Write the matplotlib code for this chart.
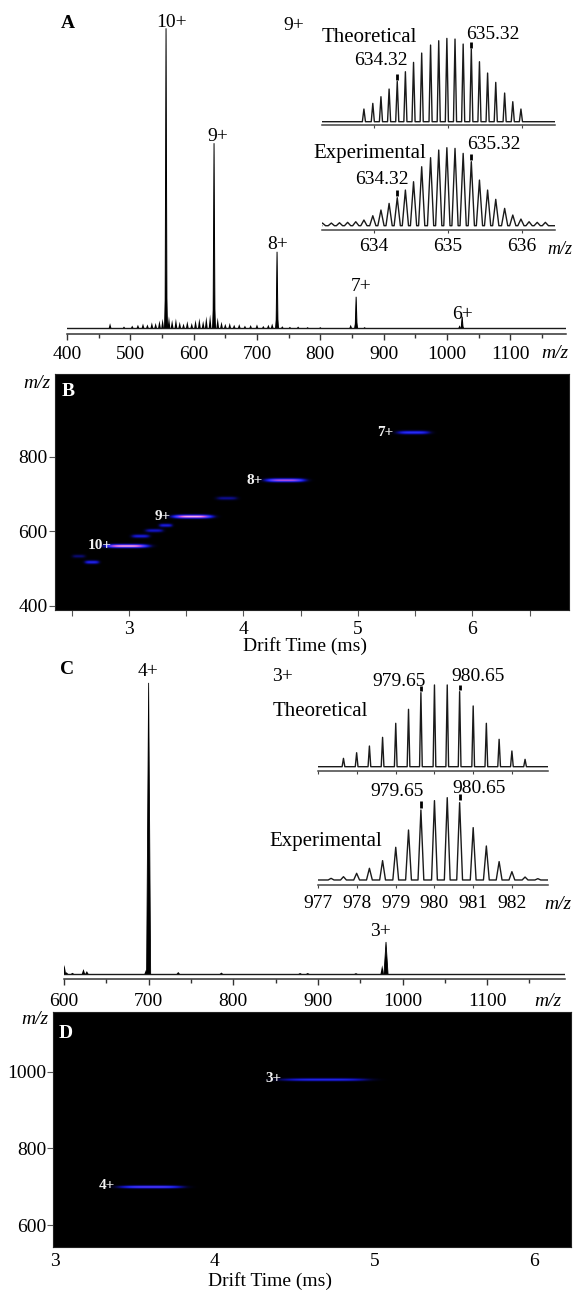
import numpy as np
import matplotlib
matplotlib.use("Agg")
import matplotlib.pyplot as plt
from matplotlib.colors import LinearSegmentedColormap

plt.rcParams['font.family'] = ['Liberation Serif', 'DejaVu Serif']

# ---------------- data ----------------
# Panel A : full mass spectrum
A_labels = ['10+', '9+', '8+', '7+', '6+']
A_peak_mz = [556.4, 632.2, 731.7, 856.6, 1024.0]
A_peak_int = [100.0, 61.7, 25.5, 10.5, 3.9]
A_peak_base = [19.0, 12.2, 5.6, 3.3, 1.2]
A_minor_mz = [468, 490, 503, 512, 520, 527, 534, 540, 546, 551, 561, 566, 572, 578,
              584, 590, 597, 603, 609, 615, 620, 626, 638, 644, 650, 657, 664, 672,
              681, 690, 700, 710, 718, 724, 740, 752, 765, 780, 800, 848, 870, 1020]
A_minor_int = [1.7, 0.6, 0.9, 1.2, 1.6, 1.3, 2.0, 1.8, 2.6, 3.2, 4.0, 2.8, 3.3, 2.2,
               1.6, 2.4, 1.8, 2.8, 3.4, 2.5, 4.0, 4.6, 3.6, 2.2, 1.5, 1.8, 1.2, 1.4,
               0.9, 1.1, 1.3, 0.8, 1.2, 1.6, 0.7, 0.5, 0.6, 0.4, 0.4, 1.2, 0.4, 1.0]
A_ticks = [400, 500, 600, 700, 800, 900, 1000, 1100]

# Inset A : 9+ isotope pattern
A_theo_mz = [633.87, 633.99, 634.10, 634.21, 634.32, 634.43, 634.54, 634.65, 634.77, 634.88,
             634.99, 635.10, 635.21, 635.32, 635.43, 635.54, 635.65, 635.77, 635.88, 635.99]
A_theo_int = [15.2, 22.0, 30.0, 39.2, 48.4, 60.0, 71.2, 82.4, 92.0, 97.2,
              100.0, 99.2, 93.2, 87.2, 72.0, 58.4, 47.2, 34.4, 24.0, 15.2]
A_exp_mz = [633.31, 633.43, 633.54, 633.65, 633.76,
            633.87, 633.99, 634.10, 634.21, 634.32, 634.43, 634.54, 634.65, 634.77, 634.88,
            634.99, 635.10, 635.21, 635.32, 635.43, 635.54, 635.65, 635.77, 635.88, 635.99,
            636.10, 636.21, 636.32]
A_exp_int = [3.4, 3.4, 3.8, 4.3, 5.1,
             7.3, 12.8, 20.1, 28.6, 35.9, 45.7, 56.4, 75.6, 87.2, 97.0,
             100.0, 99.1, 92.7, 82.1, 58.5, 45.7, 33.8, 22.2, 13.7, 8.5,
             5.1, 4.3, 4.3]
A_marked = [634.32, 635.32]
A_inset_ticks = [634, 635, 636]

# Panel B : drift time vs m/z
B_labels = ['10+', '9+', '8+', '7+']
B_dt_start = [2.79, 3.38, 4.19, 5.34]
B_dt_end = [3.17, 3.73, 4.54, 5.63]
B_mz = [558.5, 637.7, 735.4, 863.8]
B_amp = [1.0, 1.0, 0.85, 0.55]
B_minor_dt_start = [2.50, 2.61, 3.02, 3.14, 3.26, 3.76]
B_minor_dt_end = [2.62, 2.74, 3.18, 3.30, 3.38, 3.95]
B_minor_mz = [531, 515, 585, 600, 614, 687]
B_minor_amp = [0.25, 0.5, 0.45, 0.4, 0.45, 0.3]

# Panel C : full mass spectrum
C_labels = ['4+', '3+']
C_peak_mz = [700.0, 980.5]
C_peak_int = [100.0, 11.0]
C_minor_mz = [600.5, 603, 610, 623, 627, 697, 735, 786, 879, 888, 945, 976]
C_minor_int = [3.1, 0.6, 0.4, 1.7, 1.0, 1.5, 0.7, 0.5, 0.35, 0.35, 0.3, 3.0]
C_ticks = [600, 700, 800, 900, 1000, 1100]

# Inset C : 3+ isotope pattern
C_theo_mz = [977.65, 977.99, 978.32, 978.66, 979.00, 979.33, 979.65, 980.00,
             980.33, 980.65, 981.00, 981.34, 981.67, 982.00, 982.34]
C_theo_int = [10.2, 17.1, 25.3, 35.9, 53.1, 70.2, 90.6, 100.0,
              100.0, 91.8, 74.3, 53.1, 33.5, 19.2, 9.0]
C_exp_mz = [977.33, 977.65, 977.99, 978.32, 978.66, 979.00, 979.33, 979.65, 980.00,
            980.33, 980.65, 981.00, 981.34, 981.67, 982.00, 982.34, 982.67]
C_exp_int = [2.0, 4.0, 8.1, 14.2, 23.5, 39.7, 60.7, 85.0, 96.4,
             100.0, 93.9, 63.6, 41.3, 22.3, 10.1, 3.6, 1.6]
C_marked = [979.65, 980.65]
C_inset_ticks = [977, 978, 979, 980, 981, 982]

# Panel D : drift time vs m/z
D_labels = ['4+', '3+']
D_dt_start = [3.40, 4.41]
D_dt_end = [3.80, 4.96]
D_mz = [700.0, 980.2]
D_amp = [0.68, 0.52]

# ---------------- helpers ----------------
W, H = 576, 1290
fig = plt.figure(figsize=(W / 100, H / 100), dpi=100)
fig.patch.set_facecolor('white')


def add_ax(l, t, r, b):
    return fig.add_axes([l / W, 1 - b / H, (r - l) / W, (b - t) / H])


def T(x, y, s, size=14, ha='center', va='center', **kw):
    fig.text(x / W, 1 - (y + 1.5) / H, s, fontsize=size, ha=ha, va=va, **kw)


def spectrum_axes(ax, xlim, ylim, spine_color='#333333'):
    ax.set_xlim(*xlim)
    ax.set_ylim(*ylim)
    ax.patch.set_alpha(0)
    for s in ('top', 'left', 'right'):
        ax.spines[s].set_visible(False)
    ax.spines['bottom'].set_color(spine_color)
    ax.spines['bottom'].set_linewidth(1.1)
    ax.yaxis.set_visible(False)


def profile(ax, mz, inten, hw, x0, x1, color='#1a1a1a', lw=0.9):
    xs, ys = [x0], [0]
    for m, h in sorted(zip(mz, inten)):
        xs += [m - hw, m, m + hw]
        ys += [0, h, 0]
    xs.append(x1)
    ys.append(0)
    ax.plot(xs, ys, color=color, lw=lw, solid_joinstyle='round')


def markers(ax, mz_all, int_all, marked, gap, length):
    for m in marked:
        i = int(np.argmin(np.abs(np.array(mz_all) - m)))
        h = int_all[i]
        ax.plot([mz_all[i], mz_all[i]], [h + gap, h + gap + length], color='black', lw=2.0,
                solid_capstyle='butt')


cmap = LinearSegmentedColormap.from_list('ims', [
    (0.0, '#000000'), (0.12, '#04042a'), (0.35, '#1010b8'), (0.55, '#2a30ff'),
    (0.75, '#7a40f0'), (0.9, '#ff5ccf'), (1.0, '#ffd6ff')])


def heatmap(ax, xlim, ylim, starts, ends, mzs, amps, sig_mz):
    dt = np.linspace(xlim[0], xlim[1], 1100)
    mz = np.linspace(ylim[0], ylim[1], 700)
    Z = np.zeros((mz.size, dt.size))
    for s, e, m, a in zip(starts, ends, mzs, amps):
        c = 0.5 * (s + e)
        sd = 0.5 * (e - s) * 0.85
        Z += a * np.outer(np.exp(-0.5 * ((mz - m) / sig_mz) ** 2),
                          np.exp(-0.5 * ((dt - c) / sd) ** 4))
    ax.imshow(np.clip(Z, 0, 1), extent=[xlim[0], xlim[1], ylim[0], ylim[1]], origin='lower',
              aspect='auto', cmap=cmap, vmin=0, vmax=1, interpolation='bilinear')
    ax.set_xlim(*xlim)
    ax.set_ylim(*ylim)
    ax.set_facecolor('black')
    for s in ax.spines.values():
        s.set_color('#222222')


def px_to_data(ax, x, y):
    """figure pixel (from top-left) -> data coordinates of ax"""
    disp = fig.transFigure.transform((x / W, 1 - y / H))
    return ax.transData.inverted().transform(disp)


# ---------------- Panel A ----------------
axA = add_ax(67, 10, 566, 333.7)
spectrum_axes(axA, (400, 1188), (-1.8, 106.1))
axA.plot([400, 1188], [0, 0], color='#1a1a1a', lw=1.0)
for m, h, b in zip(A_peak_mz, A_peak_int, A_peak_base):
    axA.fill([m - 1.5, m, m + 1.5], [0, h, 0], color='black', lw=0.7)
    axA.fill([m - 3.2, m, m + 3.2], [0, b, 0], color='black', lw=0)
for m, h in zip(A_minor_mz, A_minor_int):
    axA.fill([m - 2.2, m, m + 2.2], [0, h, 0], color='black', lw=0)
axA.set_xticks(A_ticks)
axA.set_xticklabels([str(t) for t in A_ticks])
axA.set_xticks([t + 50 for t in A_ticks], minor=True)
axA.tick_params(axis='x', which='major', direction='out', length=4.0, width=1.0,
                labelsize=14, pad=5.0, color='#333333')
axA.tick_params(axis='x', which='minor', direction='out', length=3.0, width=1.0,
                color='#333333')
A_label_px = [(172, 20.7), (218, 135), (278, 243), (360.7, 285), (462.7, 313)]
for lab, (x, y) in zip(A_labels, A_label_px):
    d = px_to_data(axA, x, y + 1.5)
    axA.text(d[0], d[1], lab, fontsize=14, ha='center', va='center')
T(68, 21.7, 'A', size=14, weight='bold')
T(555, 352.5, 'm/z', size=14, style='italic')

# Inset A theoretical
axAt = add_ax(321.7, 28, 555, 125)
spectrum_axes(axAt, (633.30, 636.45), (-3.96, 112.5), '#444444')
profile(axAt, A_theo_mz, A_theo_int, 0.021, 633.30, 636.45, lw=1.0)
markers(axAt, A_theo_mz, A_theo_int, A_marked, 1.5, 7.5)
axAt.set_xticks(A_inset_ticks)
axAt.tick_params(axis='x', direction='out', length=2.5, width=0.8, labelbottom=False,
                 color='#444444')

# Inset A experimental
axAe = add_ax(321.7, 135, 555, 230)
spectrum_axes(axAe, (633.30, 636.45), (-5.5, 116.3), '#444444')
profile(axAe, A_exp_mz, A_exp_int, 0.042, 633.30, 636.45, lw=1.0)
markers(axAe, A_exp_mz, A_exp_int, A_marked, 2.0, 8.0)
axAe.set_xticks(A_inset_ticks)
axAe.set_xticklabels([str(t) for t in A_inset_ticks])
axAe.tick_params(axis='x', direction='out', length=2.5, width=0.8, labelsize=14, pad=3.2,
                 color='#444444')

T(294, 24, '9+', size=14)
T(321.7, 36, 'Theoretical', size=15, ha='left')
T(493, 33.3, '635.32', size=14)
T(381, 59, '634.32', size=14)
T(313, 152, 'Experimental', size=15, ha='left')
T(494, 143, '635.32', size=14)
T(382, 178, '634.32', size=14)
T(560, 248, 'm/z', size=13, style='italic')

# ---------------- Panel B ----------------
axB = add_ax(55, 374, 569, 609.5)
heatmap(axB, (2.354, 6.843), (389.5, 1023.4),
        B_minor_dt_start + B_dt_start, B_minor_dt_end + B_dt_end,
        B_minor_mz + B_mz, B_minor_amp + B_amp, 3.4)
axB.set_xticks([3, 4, 5, 6])
axB.set_xticks([2.5, 3.5, 4.5, 5.5, 6.5], minor=True)
axB.set_yticks([400, 600, 800])
axB.tick_params(axis='both', which='both', direction='out', length=4.0, width=0.8,
                color='#555555', labelsize=14)
axB.tick_params(axis='x', which='major', pad=4.3)
axB.tick_params(axis='y', pad=1.4)
B_label_dx = [-0.043, -0.083, -0.09, -0.098]
for lab, s, m, dx in zip(B_labels, B_dt_start, B_mz, B_label_dx):
    axB.text(s + dx, m + 2, lab, color='#f2f2f2', fontsize=11, weight='bold',
             ha='center', va='center')
T(68, 390, 'B', size=14, weight='bold', color='white')
T(36.7, 381.7, 'm/z', size=14, style='italic')
T(305, 645, 'Drift Time (ms)', size=14)

# ---------------- Panel C ----------------
axC = add_ax(64, 650, 565, 978.6)
spectrum_axes(axC, (600, 1192), (-1.58, 111.3))
axC.plot([600, 1192], [0, 0], color='#1a1a1a', lw=1.0)
for m, h in zip(C_peak_mz, C_peak_int):
    axC.fill([m - 2.4, m, m + 2.4], [0, h, 0], color='black', lw=0.6)
for m, h in zip(C_minor_mz, C_minor_int):
    axC.fill([m - 2.0, m, m + 2.0], [0, h, 0], color='black', lw=0)
axC.set_xticks(C_ticks)
axC.set_xticklabels([str(t) for t in C_ticks])
axC.set_xticks([t + 50 for t in C_ticks], minor=True)
axC.tick_params(axis='x', which='major', direction='out', length=4.0, width=1.0,
                labelsize=14, pad=6.3, color='#333333')
axC.tick_params(axis='x', which='minor', direction='out', length=3.0, width=1.0,
                color='#333333')
C_label_px = [(148, 670), (380, 930)]
for lab, (x, y) in zip(C_labels, C_label_px):
    d = px_to_data(axC, x, y + 1.5)
    axC.text(d[0], d[1], lab, fontsize=14, ha='center', va='center')
T(66.7, 668, 'C', size=14, weight='bold')
T(548, 1000, 'm/z', size=14, style='italic')

# Inset C theoretical
axCt = add_ax(318.3, 675, 548.3, 770.7)
spectrum_axes(axCt, (977.0, 982.94), (-4.9, 112.2), '#444444')
profile(axCt, C_theo_mz, C_theo_int, 0.035, 977.0, 982.94, lw=1.0)
markers(axCt, C_theo_mz, C_theo_int, C_marked, 1.5, 7.0)
axCt.set_xticks(C_inset_ticks)
axCt.tick_params(axis='x', direction='out', length=2.5, width=0.8, labelbottom=False,
                 color='#444444')

# Inset C experimental
axCe = add_ax(318.3, 785, 548.3, 885)
spectrum_axes(axCe, (977.0, 982.94), (-6.1, 115.4), '#444444')
profile(axCe, C_exp_mz, C_exp_int, 0.075, 977.0, 982.94, lw=1.0)
markers(axCe, C_exp_mz, C_exp_int, C_marked, 3.0, 7.5)
axCe.set_xticks(C_inset_ticks)
axCe.set_xticklabels([str(t) for t in C_inset_ticks])
axCe.tick_params(axis='x', direction='out', length=2.5, width=0.8, labelsize=14, pad=4.6,
                 color='#444444')

T(282, 675, '3+', size=14)
T(320, 710, 'Theoretical', size=15)
T(399, 680, '979.65', size=14)
T(478, 675, '980.65', size=14)
T(326, 840, 'Experimental', size=15)
T(397.5, 790, '979.65', size=14)
T(479, 786.7, '980.65', size=14)
T(558, 903, 'm/z', size=14, style='italic')

# ---------------- Panel D ----------------
axD = add_ax(53.3, 1011.7, 571, 1246.7)
heatmap(axD, (2.989, 6.229), (543.6, 1156.5), D_dt_start, D_dt_end, D_mz, D_amp, 2.6)
axD.set_xticks([3, 4, 5, 6])
axD.set_yticks([600, 800, 1000])
axD.tick_params(axis='x', length=0, labelsize=14, pad=4.8)
axD.tick_params(axis='y', direction='out', length=4.0, width=0.8, color='#555555',
                labelsize=14, pad=1.0)
D_label_dx = [-0.078, -0.04]
for lab, s, m, dx in zip(D_labels, D_dt_start, D_mz, D_label_dx):
    axD.text(s + dx, m + 2, lab, color='#f2f2f2', fontsize=11, weight='bold',
             ha='center', va='center')
T(66, 1031.7, 'D', size=14, weight='bold', color='white')
T(35, 1018, 'm/z', size=14, style='italic')
T(270, 1280, 'Drift Time (ms)', size=14)

fig.savefig('out.png', dpi=100, facecolor='white')
